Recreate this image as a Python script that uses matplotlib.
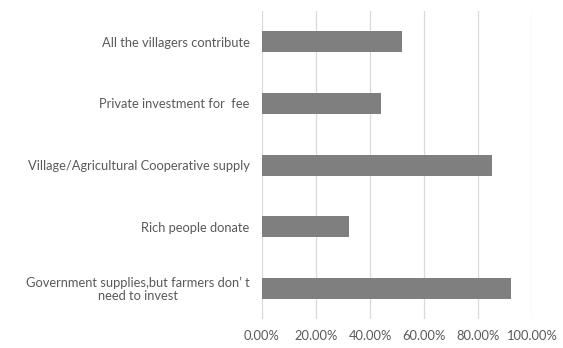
import matplotlib
matplotlib.use("Agg")
import matplotlib.pyplot as plt
from matplotlib.ticker import FuncFormatter

categories = [
    "All the villagers contribute",
    "Private investment for  fee",
    "Village/Agricultural Cooperative supply",
    "Rich people donate",
    "Government supplies,but farmers don\u2019 t\nneed to invest",
]
values = [0.517, 0.440, 0.850, 0.322, 0.922]
xticks = [0.0, 0.2, 0.4, 0.6, 0.8, 1.0]

plt.rcParams['font.family'] = ['Lato', 'DejaVu Sans']

fig = plt.figure(figsize=(5.63, 3.48), dpi=100)
ax = fig.add_axes([0.4654, 0.0833, 0.4796, 0.8847])

ypos = list(range(len(categories)))
ax.barh(ypos, values, height=0.34, color="#7f7f7f", zorder=3)
ax.set_ylim(len(categories) - 0.5, -0.5)
ax.set_xlim(0, 1.0)
ax.set_xticks(xticks)
ax.xaxis.set_major_formatter(FuncFormatter(lambda v, p: f"{v*100:.2f}%"))
ax.set_yticks(ypos)
ax.set_yticklabels(categories, ha="right", multialignment="center", linespacing=1.05)
ax.grid(axis="x", color="#d9d9d9", linewidth=0.9, zorder=0)
for s in ax.spines.values():
    s.set_visible(False)
ax.tick_params(axis="both", length=0, colors="#595959", labelsize=9.3)
ax.tick_params(axis="y", pad=9)
ax.tick_params(axis="x", pad=8)

fig.savefig("out.png", dpi=100, facecolor="white")
